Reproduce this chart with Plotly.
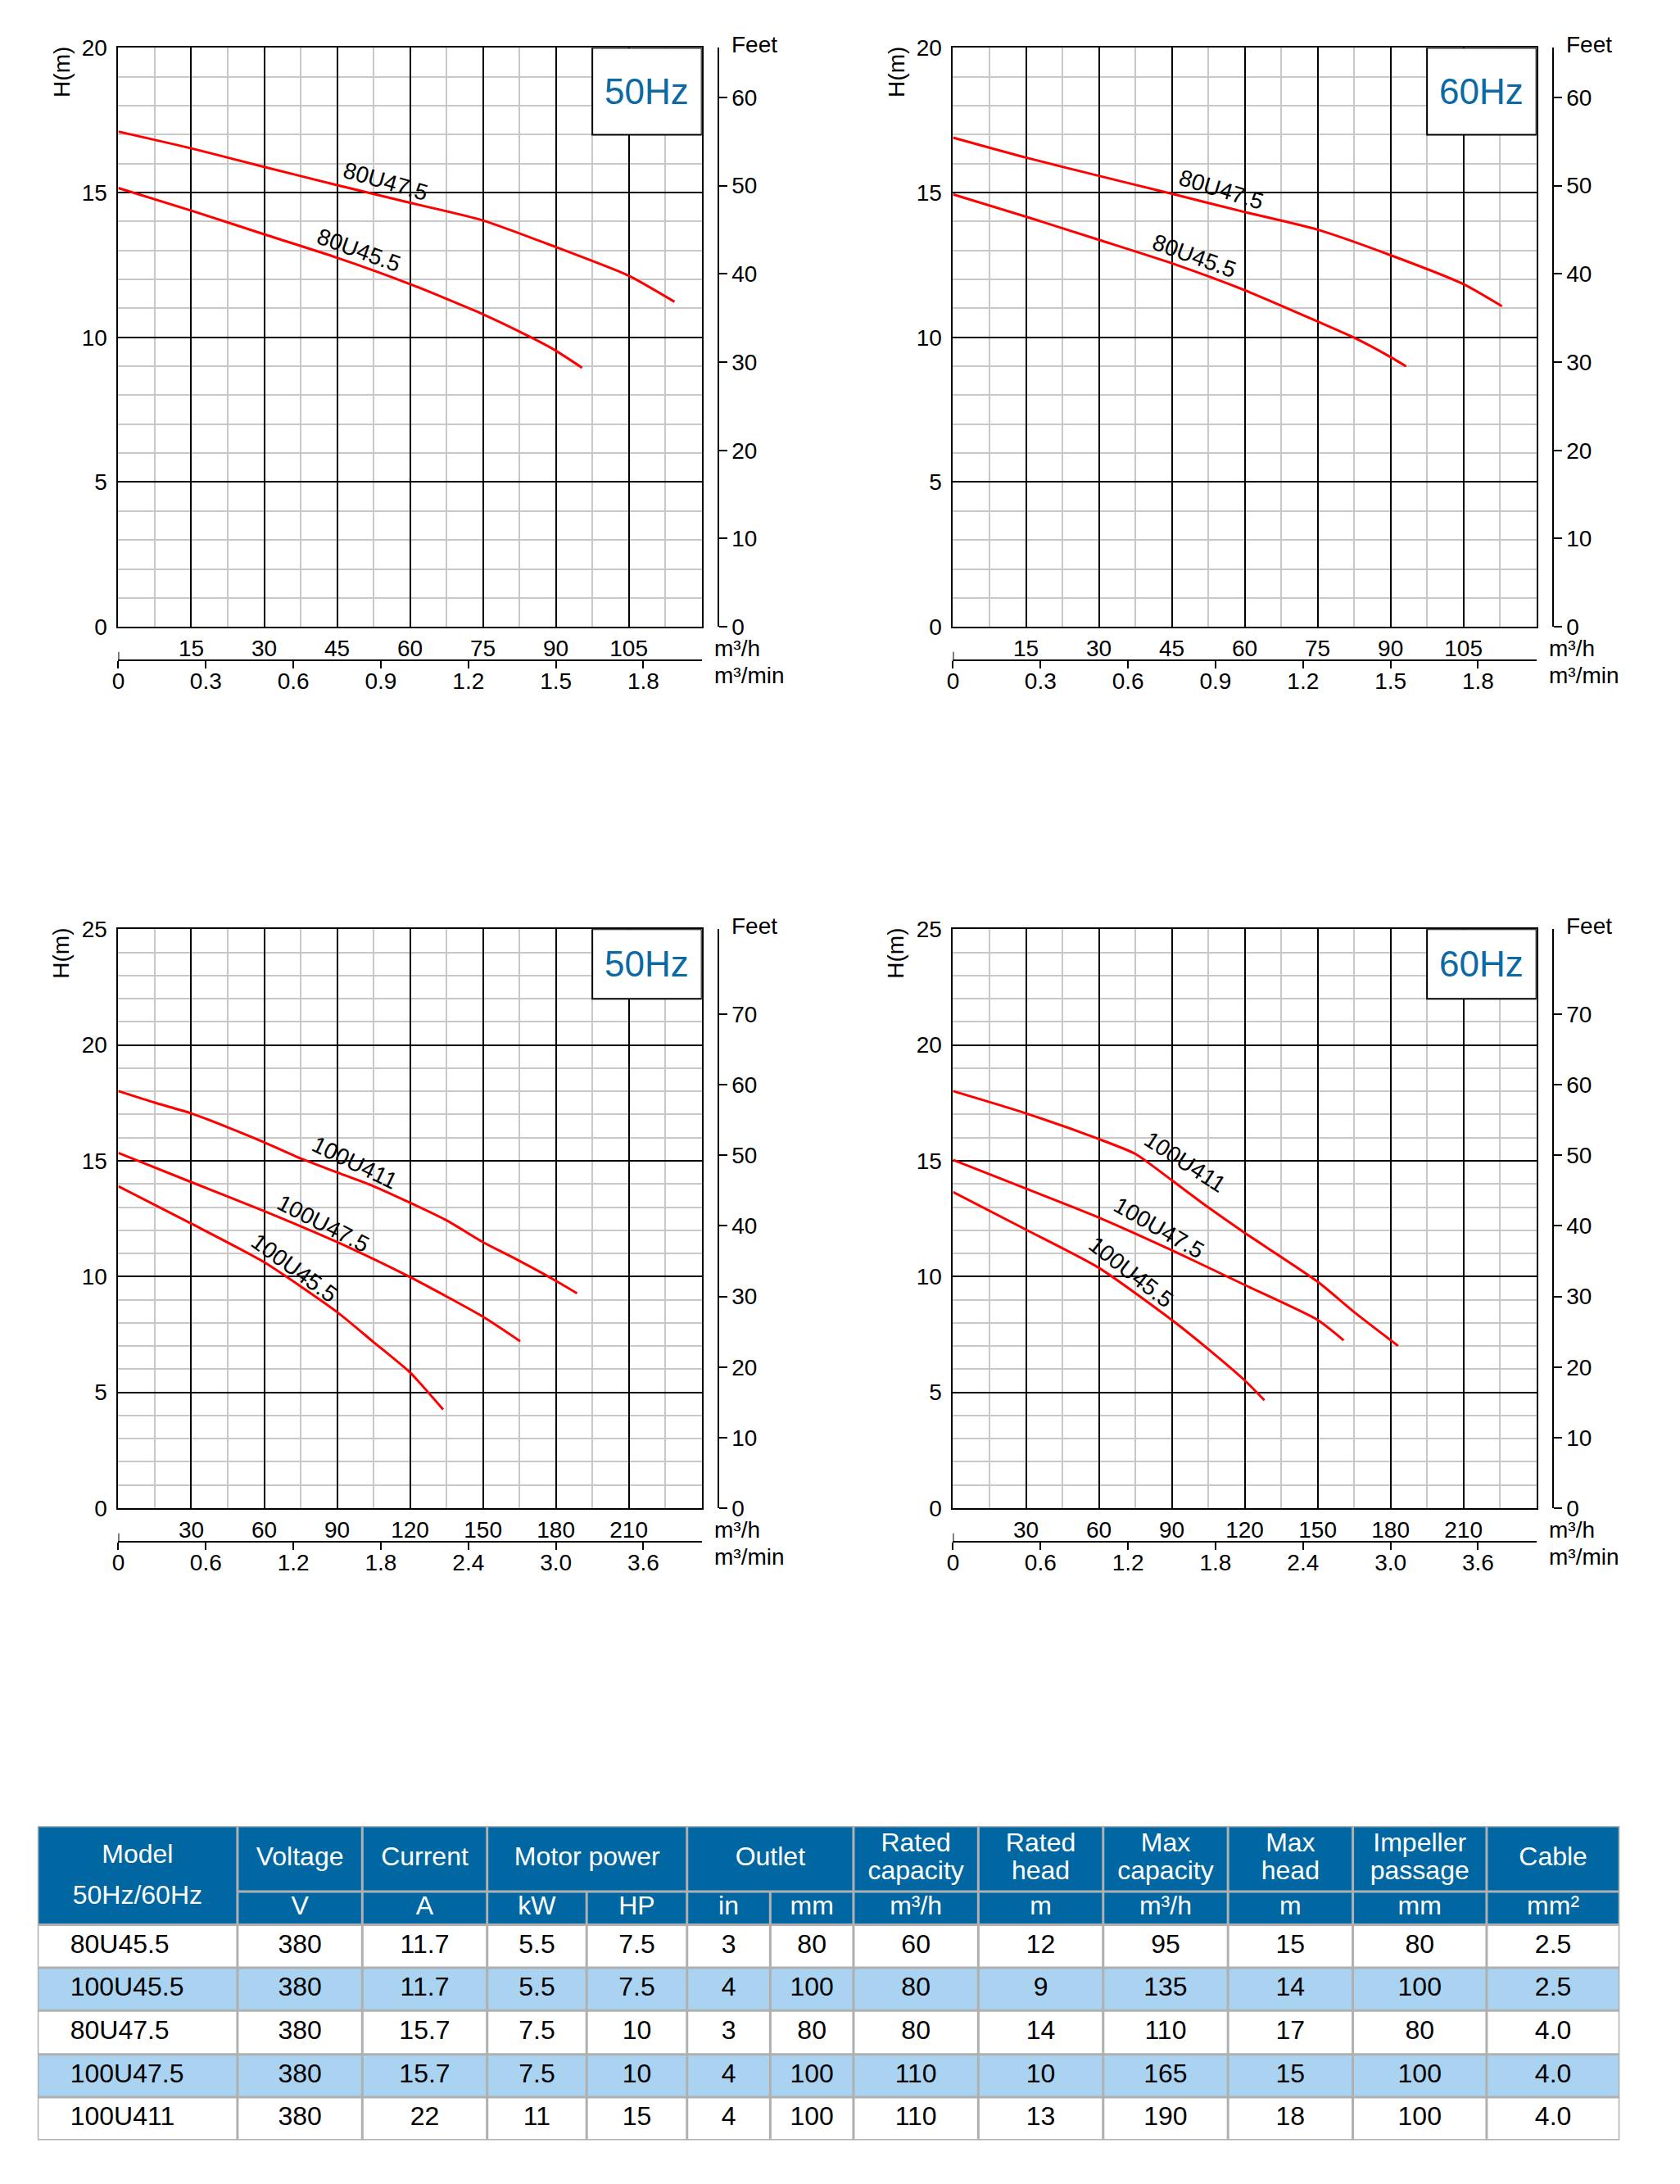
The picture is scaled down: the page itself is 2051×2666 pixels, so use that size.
import plotly.graph_objects as go

W, H = 2051, 2666
FT_PER_M = 3.2808
FONT = "Liberation Sans, Arial, sans-serif"
RED = "#ff0000"
GRID_MINOR = "#c8c8c8"

# ---- pump curves: flow (m3/h) and head (m) ----
q_80u475_50 = [0, 15, 30, 45, 60, 75, 90, 105, 114.4]
h_80u475_50 = [17.11, 16.53, 15.89, 15.26, 14.65, 14.04, 13.12, 12.13, 11.23]
q_80u455_50 = [0, 15, 30, 45, 60, 75, 85, 90, 95.4]
h_80u455_50 = [15.16, 14.38, 13.56, 12.75, 11.84, 10.80, 9.99, 9.54, 8.95]

q_80u475_60 = [0, 15, 30, 45, 60, 75, 90, 105, 112.9]
h_80u475_60 = [16.90, 16.21, 15.58, 14.96, 14.33, 13.72, 12.84, 11.84, 11.08]
q_80u455_60 = [0, 15, 30, 45, 60, 75, 82.5, 90, 93.2]
h_80u455_60 = [14.94, 14.17, 13.37, 12.56, 11.63, 10.55, 9.99, 9.32, 9.0]

q_100u411_50 = [0, 15, 30, 45, 60, 75, 90, 105, 120, 135, 150, 165, 180, 188.7]
h_100u411_50 = [18.01, 17.51, 17.05, 16.45, 15.80, 15.10, 14.50, 13.90, 13.19,
                12.43, 11.49, 10.68, 9.82, 9.28]
q_100u475_50 = [0, 30, 60, 90, 120, 150, 165.3]
h_100u475_50 = [15.34, 14.08, 12.83, 11.49, 9.98, 8.27, 7.21]
q_100u455_50 = [0, 30, 60, 90, 105, 120, 133.6]
h_100u455_50 = [13.90, 12.29, 10.62, 8.47, 7.17, 5.86, 4.26]

q_100u411_60 = [0, 30, 60, 75, 90, 105, 120, 150, 165, 183.1]
h_100u411_60 = [18.01, 17.05, 15.94, 15.30, 14.16, 12.99, 11.89, 9.78, 8.47, 7.01]
q_100u475_60 = [0, 30, 60, 90, 120, 150, 160.7]
h_100u475_60 = [15.04, 13.80, 12.55, 11.14, 9.64, 8.13, 7.25]
q_100u455_60 = [0, 30, 60, 90, 105, 120, 128.1]
h_100u455_60 = [13.65, 12.03, 10.38, 8.13, 6.87, 5.52, 4.66]

# ---- tick labels ----
flow_ticks_small = [15, 30, 45, 60, 75, 90, 105]
flow_ticks_large = [30, 60, 90, 120, 150, 180, 210]
min_ticks_small = [0, 0.3, 0.6, 0.9, 1.2, 1.5, 1.8]
min_labels_small = ["0", "0.3", "0.6", "0.9", "1.2", "1.5", "1.8"]
min_ticks_large = [0, 0.6, 1.2, 1.8, 2.4, 3.0, 3.6]
min_labels_large = ["0", "0.6", "1.2", "1.8", "2.4", "3.0", "3.6"]
head_ticks_small = [0, 5, 10, 15, 20]
head_ticks_large = [0, 5, 10, 15, 20, 25]
feet_ticks_small = [0, 10, 20, 30, 40, 50, 60]
feet_ticks_large = [0, 10, 20, 30, 40, 50, 60, 70]

# ---- table ----
models = ["80U45.5", "100U45.5", "80U47.5", "100U47.5", "100U411"]
voltage = ["380", "380", "380", "380", "380"]
current = ["11.7", "11.7", "15.7", "15.7", "22"]
power_kw = ["5.5", "5.5", "7.5", "7.5", "11"]
power_hp = ["7.5", "7.5", "10", "10", "15"]
outlet_in = ["3", "4", "3", "4", "4"]
outlet_mm = ["80", "100", "80", "100", "100"]
rated_capacity = ["60", "80", "80", "110", "110"]
rated_head = ["12", "9", "14", "10", "13"]
max_capacity = ["95", "135", "110", "165", "190"]
max_head = ["15", "14", "17", "15", "18"]
impeller_passage = ["80", "100", "80", "100", "100"]
cable = ["2.5", "2.5", "4.0", "4.0", "4.0"]

header_groups = ["Voltage", "Current", "Motor power", "Outlet", "Rated\ncapacity",
                 "Rated\nhead", "Max\ncapacity", "Max\nhead", "Impeller\npassage", "Cable"]
group_spans = [1, 1, 2, 2, 1, 1, 1, 1, 1, 1]
units = ["V", "A", "kW", "HP", "in", "mm", "m³/h", "m", "m³/h", "m", "mm", "mm²"]


def px(x):
    return x / W


def py(y):
    return 1 - y / H


small = dict(xmax=120, xminor=7.5, ymax=20, flow=flow_ticks_small, mt=min_ticks_small,
             ml=min_labels_small, head=head_ticks_small, feet=feet_ticks_small,
             box=(97.5, 120, 17, 20))
large = dict(xmax=240, xminor=15, ymax=25, flow=flow_ticks_large, mt=min_ticks_large,
             ml=min_labels_large, head=head_ticks_large, feet=feet_ticks_large,
             box=(195, 240, 22, 25))

panels = [
    dict(x0=137, y0=44, hz="50Hz", scale=small,
         curves=[(q_80u475_50, h_80u475_50), (q_80u455_50, h_80u455_50)],
         labels=[("80U47.5", 55.0, 15.4, 16), ("80U45.5", 49.5, 13.0, 20)]),
    dict(x0=1160, y0=44, hz="60Hz", scale=small,
         curves=[(q_80u475_60, h_80u475_60), (q_80u455_60, h_80u455_60)],
         labels=[("80U47.5", 55.2, 15.1, 17), ("80U45.5", 49.6, 12.8, 20)]),
    dict(x0=137, y0=1132.5, hz="50Hz", scale=large,
         curves=[(q_100u411_50, h_100u411_50), (q_100u475_50, h_100u475_50),
                 (q_100u455_50, h_100u455_50)],
         labels=[("100U411", 97.3, 14.9, 26), ("100U47.5", 84.2, 12.3, 27),
                 ("100U45.5", 72.3, 10.4, 36)]),
    dict(x0=1160, y0=1132.5, hz="60Hz", scale=large,
         curves=[(q_100u411_60, h_100u411_60), (q_100u475_60, h_100u475_60),
                 (q_100u455_60, h_100u455_60)],
         labels=[("100U411", 95.5, 14.95, 33), ("100U47.5", 84.5, 12.1, 30),
                 ("100U45.5", 73.0, 10.2, 38)]),
]
SIZE = 715

fig = go.Figure()
layout = {}
shapes = []
annotations = []
tick_font = dict(family=FONT, size=28, color="black")
label_font = dict(family=FONT, size=28, color="black")


def ax_name(kind, n):
    return f"{kind}axis" if n == 1 else f"{kind}axis{n}"


def ax_ref(kind, n):
    return kind if n == 1 else f"{kind}{n}"


def paper_text(text, x, y, xanchor="center", **kw):
    d = dict(text=text, x=px(x), y=py(y), xref="paper", yref="paper", xanchor=xanchor,
             yanchor="middle", showarrow=False, font=label_font)
    d.update(kw)
    annotations.append(d)


for k, p in enumerate(panels):
    s = p["scale"]
    x0, y0 = p["x0"], p["y0"]
    x1, y1 = x0 + SIZE, y0 + SIZE
    na, nb = 2 * k + 1, 2 * k + 2
    xa, xb, ya, yb = ax_ref("x", na), ax_ref("x", nb), ax_ref("y", na), ax_ref("y", nb)

    layout[ax_name("x", na)] = dict(
        domain=[px(x0), px(x1)], range=[0, s["xmax"]], anchor=ya,
        tickmode="array", tickvals=s["flow"], ticktext=[str(v) for v in s["flow"]],
        showgrid=True, gridcolor="black", gridwidth=2,
        showline=True, mirror=True, linecolor="black", linewidth=2,
        ticks="", tickfont=tick_font, zeroline=False, fixedrange=True,
        minor=dict(tickmode="linear", tick0=0, dtick=s["xminor"], showgrid=True,
                   gridcolor=GRID_MINOR, gridwidth=1.5, ticks=""))
    layout[ax_name("y", na)] = dict(
        domain=[py(y1), py(y0)], range=[0, s["ymax"]], anchor=xa,
        tickmode="array", tickvals=s["head"],
        showgrid=True, gridcolor="black", gridwidth=2,
        showline=True, mirror=True, linecolor="black", linewidth=2,
        ticks="outside", ticklen=6, tickcolor="rgba(0,0,0,0)",
        tickfont=tick_font, zeroline=False, fixedrange=True,
        minor=dict(tickmode="linear", tick0=0, dtick=1, showgrid=True,
                   gridcolor=GRID_MINOR, gridwidth=1.5, ticks=""))
    layout[ax_name("y", nb)] = dict(
        overlaying=ya, anchor="free", position=px(x1 + 20), side="right",
        range=[0, s["ymax"] * FT_PER_M], tickmode="array", tickvals=s["feet"],
        showline=True, linecolor="black", linewidth=2, showgrid=False,
        ticks="outside", ticklen=10, tickwidth=2, tickcolor="black",
        tickfont=tick_font, zeroline=False, fixedrange=True)
    layout[ax_name("x", nb)] = dict(
        overlaying=xa, anchor="free", position=py(y1 + 41), side="bottom",
        range=[0, s["xmax"] / 60], tickmode="array", tickvals=s["mt"], ticktext=s["ml"],
        showline=True, linecolor="black", linewidth=2, showgrid=False,
        ticks="outside", ticklen=9, tickwidth=2, tickcolor="black",
        ticklabelstandoff=-8,
        tickfont=tick_font, zeroline=False, fixedrange=True)

    for q, h in p["curves"]:
        fig.add_trace(go.Scatter(x=q, y=h, xaxis=xa, yaxis=ya, mode="lines",
                                 line=dict(color=RED, width=3, shape="spline", smoothing=0.6),
                                 hoverinfo="skip", showlegend=False))
    # keeps the secondary axes alive
    fig.add_trace(go.Scatter(x=[0], y=[0], xaxis=xb, yaxis=yb, mode="markers",
                             marker=dict(opacity=0), hoverinfo="skip", showlegend=False))

    for text, lx, ly, ang in p["labels"]:
        annotations.append(dict(text=text, x=lx, y=ly, xref=xa, yref=ya, textangle=ang,
                                xanchor="center", yanchor="middle",
                                showarrow=False, font=label_font))

    bx0, bx1, by0, by1 = s["box"]
    shapes.append(dict(type="rect", xref=xa, yref=ya, x0=bx0, x1=bx1, y0=by0, y1=by1,
                       fillcolor="white", line=dict(color="black", width=2), layer="above"))
    annotations.append(dict(text=p["hz"], x=(bx0 + bx1) / 2, y=(by0 + by1) / 2, xref=xa, yref=ya,
                            xanchor="center", yanchor="middle", showarrow=False,
                            font=dict(family=FONT, size=44, color="#0b69a3")))

    # start mark of the m3/min scale
    shapes.append(dict(type="line", xref=xb, yref="paper", x0=0, x1=0,
                       y0=py(y1 + 41), y1=py(y1 + 31), line=dict(color="black", width=2)))

    paper_text("H(m)", x0 - 70, y0 + 30, textangle=-90)
    paper_text("Feet", x1 + 65, y0 - 4)
    paper_text("m³/h", x1 + 13, y1 + 27, xanchor="left")
    paper_text("m³/min", x1 + 13, y1 + 60, xanchor="left")

# ---- spec table drawn on its own pixel-like axes ----
col_edges = [38, 283, 436, 589, 711, 834, 936, 1038, 1191, 1344, 1497, 1650, 1814, 1977]
row_edges = [2240, 2321, 2362, 2415, 2468, 2522, 2575, 2628]
HEAD_BLUE = "#0067a3"
ROW_FILLS = ["white", "#a9d3f1", "white", "#a9d3f1", "white"]
LINE = dict(color="#b0b0b0", width=3)

layout["xaxis9"] = dict(domain=[px(col_edges[0]), px(col_edges[-1])],
                        range=[col_edges[0], col_edges[-1]], visible=False,
                        anchor="y9", fixedrange=True)
layout["yaxis9"] = dict(domain=[py(row_edges[-1]), py(row_edges[0])],
                        range=[row_edges[-1], row_edges[0]], visible=False,
                        anchor="x9", fixedrange=True)


def tshape(**kw):
    d = dict(xref="x9", yref="y9", layer="below")
    d.update(kw)
    shapes.append(d)


tshape(type="rect", x0=col_edges[0], x1=col_edges[-1], y0=row_edges[0], y1=row_edges[2],
       fillcolor=HEAD_BLUE, line=dict(width=0))
for i, fill in enumerate(ROW_FILLS):
    tshape(type="rect", x0=col_edges[0], x1=col_edges[-1], y0=row_edges[i + 2],
           y1=row_edges[i + 3], fillcolor=fill, line=dict(width=0))
for j, y in enumerate(row_edges):
    tshape(type="line", x0=col_edges[1] if j == 1 else col_edges[0], x1=col_edges[-1],
           y0=y, y1=y, line=LINE)
for c, x in enumerate(col_edges):
    tshape(type="line", x0=x, x1=x, y0=row_edges[1] if c in (4, 6) else row_edges[0],
           y1=row_edges[-1], line=LINE)

centers = [(col_edges[c] + col_edges[c + 1]) / 2 for c in range(len(col_edges) - 1)]

# header group row
hx, hy, ht = [centers[0]] * 2, [2277, 2328], ["Model", "50Hz/60Hz"]
c = 1
for label, span in zip(header_groups, group_spans):
    cx = (col_edges[c] + col_edges[c + span]) / 2
    lines = label.split("\n")
    ys = [2281] if len(lines) == 1 else [2263, 2298]
    for line, yy in zip(lines, ys):
        hx.append(cx)
        hy.append(yy)
        ht.append(line)
    c += span
hx += centers[1:]
hy += [(row_edges[1] + row_edges[2]) / 2] * len(units)
ht += units
fig.add_trace(go.Scatter(x=hx, y=hy, text=ht, mode="text", xaxis="x9", yaxis="y9",
                         textposition="middle center",
                         textfont=dict(family=FONT, size=32, color="white"),
                         hoverinfo="skip", showlegend=False))

columns = [models, voltage, current, power_kw, power_hp, outlet_in, outlet_mm, rated_capacity,
           rated_head, max_capacity, max_head, impeller_passage, cable]
row_mid = [(row_edges[i + 2] + row_edges[i + 3]) / 2 for i in range(len(models))]
fig.add_trace(go.Scatter(x=[col_edges[0] + 40] * len(models), y=row_mid, text=models,
                         mode="text", xaxis="x9", yaxis="y9", textposition="middle right",
                         textfont=dict(family=FONT, size=32, color="black"),
                         hoverinfo="skip", showlegend=False))
bx, by, bt = [], [], []
for c, col in enumerate(columns[1:], start=1):
    bx += [centers[c]] * len(col)
    by += row_mid
    bt += col
fig.add_trace(go.Scatter(x=bx, y=by, text=bt, mode="text", xaxis="x9", yaxis="y9",
                         textposition="middle center",
                         textfont=dict(family=FONT, size=32, color="black"),
                         hoverinfo="skip", showlegend=False))

fig.update_layout(
    width=W, height=H, autosize=False,
    margin=dict(l=0, r=0, t=0, b=0),
    paper_bgcolor="white", plot_bgcolor="white",
    showlegend=False, font=dict(family=FONT),
    shapes=shapes, annotations=annotations,
    **layout)

fig.write_html("out.html", config={"displayModeBar": False},
               post_script="document.body.style.margin='0px';")
